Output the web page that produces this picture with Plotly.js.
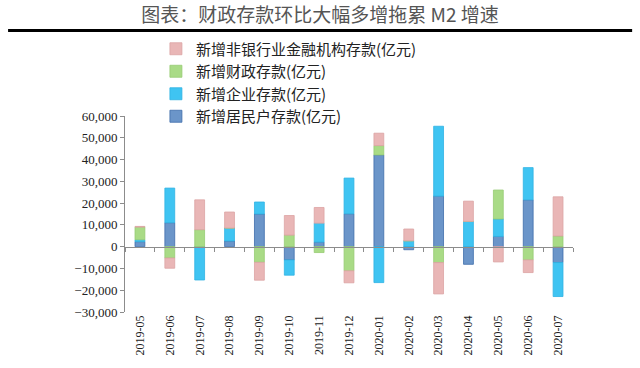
<!DOCTYPE html>
<html>
<head>
<meta charset="utf-8">
<script src="https://cdn.plot.ly/plotly-3.0.1.min.js"></script>
<style>html,body{margin:0;padding:0;background:#fff;}#chart{width:640px;height:368px;}</style>
</head>
<body>
<div id="chart"></div>
<script>
const months = ["2019-05","2019-06","2019-07","2019-08","2019-09","2019-10","2019-11","2019-12","2020-01","2020-02","2020-03","2020-04","2020-05","2020-06","2020-07"];
const household = [2300, 11000, 0, 2600, 15000, -6100, 2100, 15100, 42100, -1400, 23200, -8100, 4700, 21500, -7300];
const corporate = [900, 15900, -15300, 5950, 5500, -7000, 8700, 16400, -16500, 2700, 32100, 11600, 8000, 14800, -15600];
const fiscal = [5800, -5200, 7800, 0, -7200, 5300, -2700, -11100, 4300, 0, -7300, 0, 13300, -6100, 4900];
const nonbank = [300, -4700, 13700, 7350, -8200, 9000, 7200, -5500, 5700, 5400, -14400, 9300, -7000, -5800, 18000];
const names = ["新增居民户存款(亿元)", "新增企业存款(亿元)", "新增财政存款(亿元)", "新增非银行业金融机构存款(亿元)"];
const yTickVals = [-30000,-20000,-10000,0,10000,20000,30000,40000,50000,60000];
const titleText = "图表：财政存款环比大幅多增拖累 M2 增速";

const colors = ["#6b95c9", "#3fc4f2", "#a9db86", "#e9b6b6"];
const lines = ["#3f6dab", "#2fb3e3", "#97cc74", "#dca3a3"];
const series = [household, corporate, fiscal, nonbank];

const yMin = -30000, yMax = 60000;
const traces = series.map((s, i) => ({
  type: "bar", x: months, y: s, name: names[i],
  marker: {color: colors[i], line: {color: lines[i], width: 0.8}},
  hoverinfo: "skip"
}));
// helper trace to host the axis drawn at y = 0 (tick marks at category boundaries)
traces.push({type: "scatter", mode: "lines", x: months, y: months.map(() => 0), xaxis: "x2", yaxis: "y",
  line: {color: "rgba(0,0,0,0)", width: 0}, showlegend: false, hoverinfo: "skip"});

const zeroPos = (0 - yMin) / (yMax - yMin);
const serif = "'Liberation Serif', 'Times New Roman', serif";
const cjk = "'Noto Sans CJK SC', sans-serif";

const layout = {
  width: 640, height: 368,
  margin: {l: 125, r: 67, t: 116, b: 56},
  paper_bgcolor: "#fff", plot_bgcolor: "#fff",
  barmode: "relative", bargap: 0.67,
  showlegend: true,
  title: {text: titleText, x: 0.5, xanchor: "center", y: 0.958, yanchor: "middle",
    font: {family: cjk, size: 19, color: "#555"}},
  legend: {x: 0.069, y: 1.426, xanchor: "left", yanchor: "top", traceorder: "reversed",
    font: {family: cjk, size: 15, color: "#222"}, bgcolor: "rgba(0,0,0,0)",
    itemwidth: 30, tracegroupgap: 0},
  xaxis: {type: "category", categoryorder: "array", categoryarray: months, range: [-0.5, 14.5],
    tickangle: -90, tickfont: {family: serif, size: 12, color: "#222"},
    showline: false, ticks: "", showgrid: false, zeroline: false, fixedrange: true},
  xaxis2: {type: "category", categoryorder: "array", categoryarray: months, range: [-0.5, 14.5],
    overlaying: "x", anchor: "free", position: zeroPos, side: "bottom",
    showticklabels: false, showline: true, linecolor: "#8c8c8c", linewidth: 1,
    ticks: "outside", tickson: "boundaries", ticklen: 4, tickcolor: "#8c8c8c", tickwidth: 1,
    showgrid: false, zeroline: false},
  yaxis: {range: [yMin, yMax], tickvals: yTickVals, tickformat: ",", showgrid: false,
    zeroline: false, showline: true, linecolor: "#8c8c8c", linewidth: 1,
    ticks: "outside", ticklen: 4, tickcolor: "#8c8c8c",
    tickfont: {family: serif, size: 13, color: "#222"}, fixedrange: true},
  shapes: [{type: "line", xref: "paper", yref: "paper", x0: -0.261, x1: 1.132, y0: 1.436, y1: 1.436,
    line: {color: "#000", width: 3}}]
};
Plotly.newPlot("chart", traces, layout, {displayModeBar: false, staticPlot: true});
</script>
</body>
</html>
